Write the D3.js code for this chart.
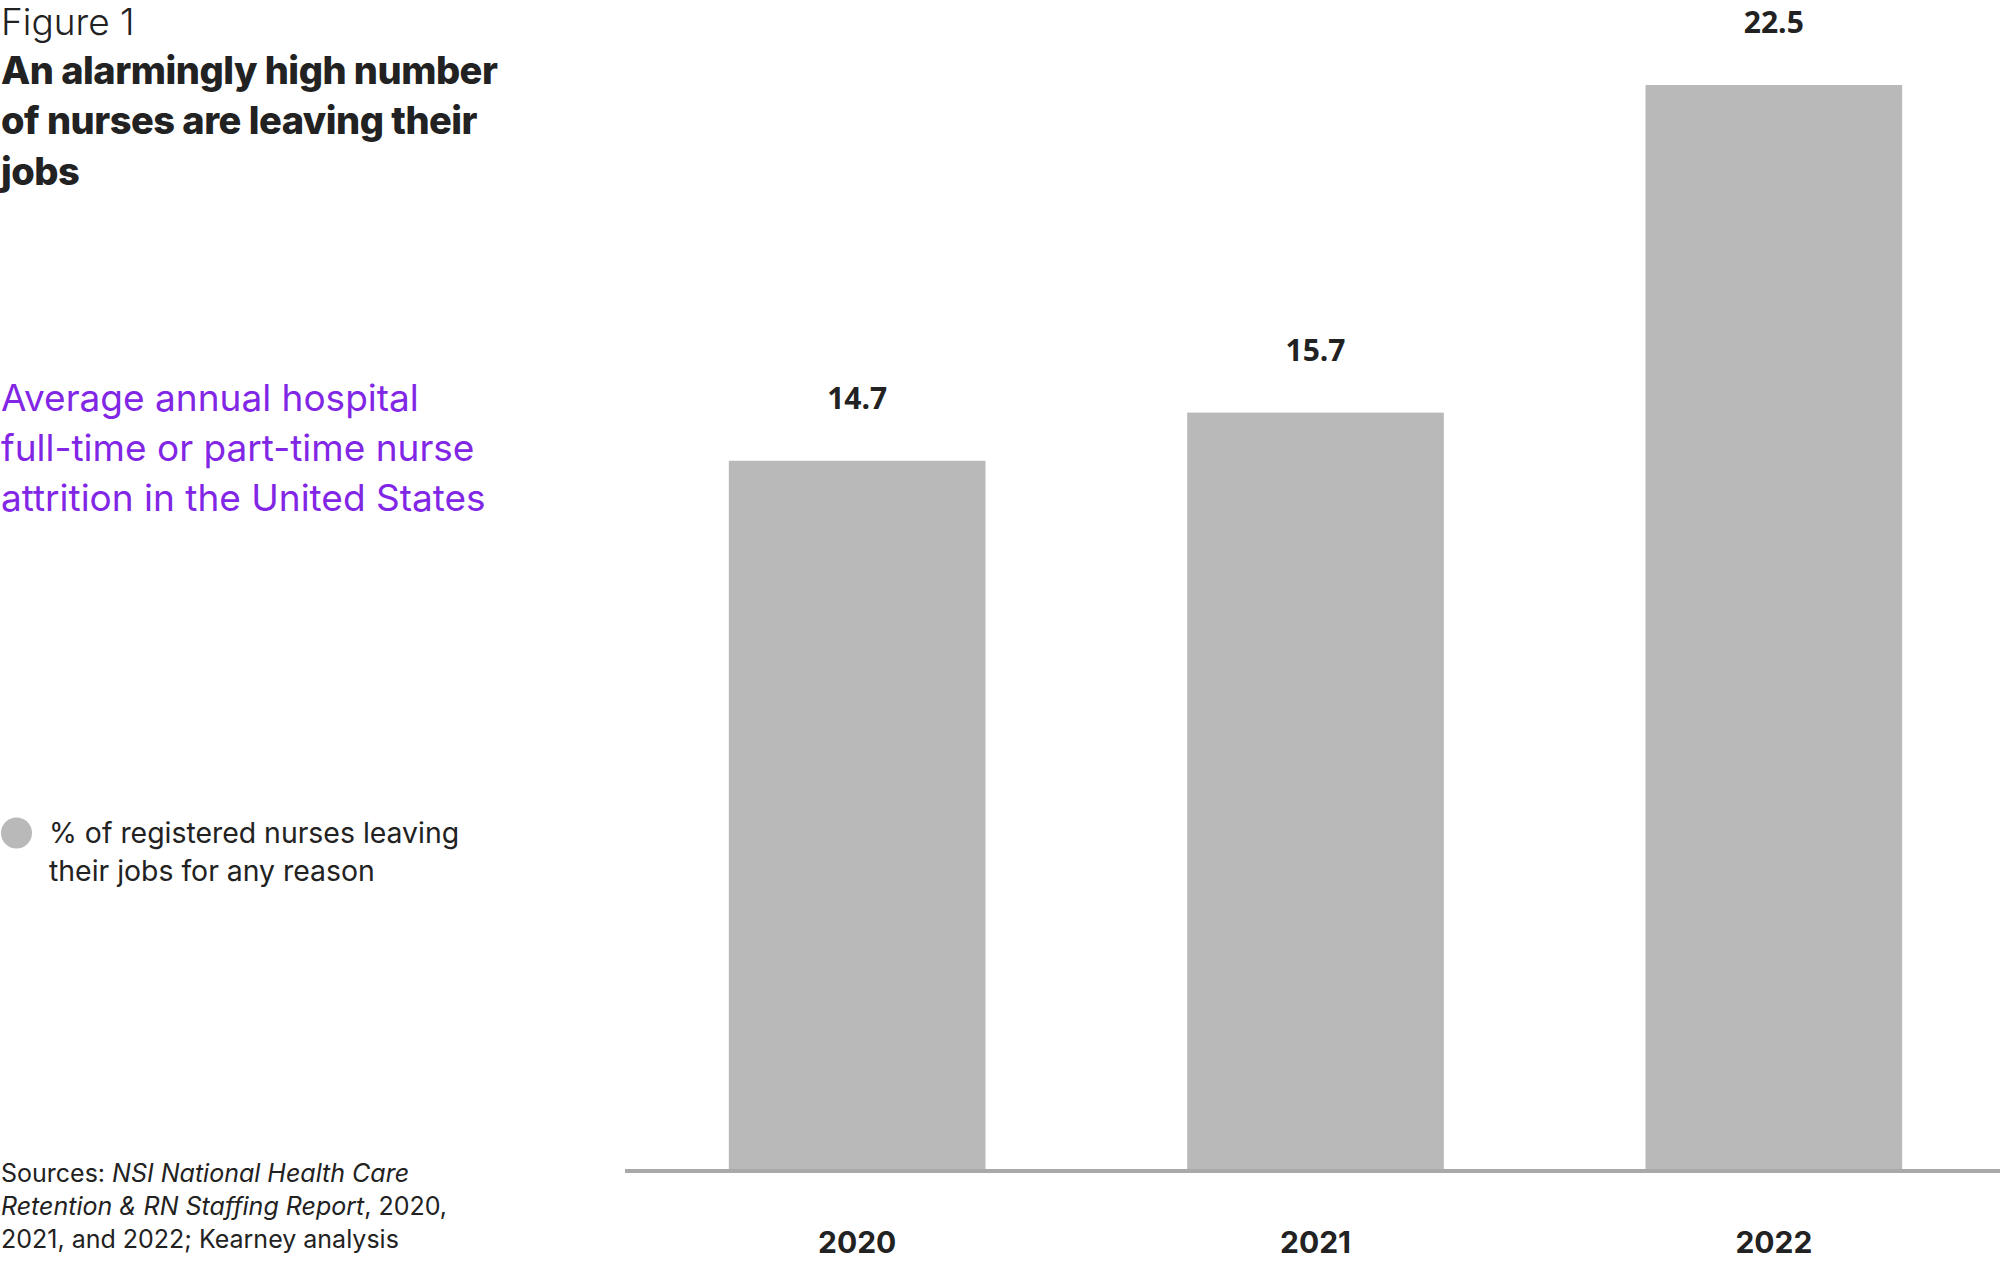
<!DOCTYPE html>
<html>
<head>
<meta charset="utf-8">
<script src="https://cdn.jsdelivr.net/npm/d3@7"></script>
<style>
  body { margin: 0; background: #fff; }
  svg text { font-family: Inter, "Noto Sans", sans-serif; fill: #222; }
</style>
</head>
<body>
<svg id="chart" width="2000" height="1261"></svg>
<script>
// data
var years = ["2020", "2021", "2022"];
var attrition = [14.7, 15.7, 22.5];

var titleLines = ["An alarmingly high number", "of nurses are leaving their", "jobs"];
var subtitleLines = ["Average annual hospital", "full-time or part-time nurse", "attrition in the United States"];
var legendLines = ["% of registered nurses leaving", "their jobs for any reason"];

var svg = d3.select("#chart");

var x = d3.scaleBand()
  .domain(years)
  .range([628, 2003])
  .paddingInner(0.44)
  .paddingOuter(0.22);

var y = d3.scaleLinear()
  .domain([0, 22.5])
  .range([1169, 85]);

// bars
svg.append("g")
  .selectAll("rect")
  .data(attrition)
  .enter()
  .append("rect")
  .attr("x", function(d, i) { return x(years[i]); })
  .attr("y", function(d) { return y(d); })
  .attr("width", x.bandwidth())
  .attr("height", function(d) { return y(0) - y(d); })
  .style("fill", "#b9b9b9");

// baseline
svg.append("line")
  .attr("x1", 625).attr("x2", 2000)
  .attr("y1", y(0) + 2).attr("y2", y(0) + 2)
  .style("stroke", "#a9a9a9")
  .style("stroke-width", 4);

// value labels
svg.append("g")
  .selectAll("text")
  .data(attrition)
  .enter()
  .append("text")
  .attr("x", function(d, i) { return x(years[i]) + x.bandwidth() / 2; })
  .attr("y", function(d) { return y(d) - 52; })
  .attr("text-anchor", "middle")
  .style("font-family", "'Open Sans', sans-serif")
  .style("font-weight", 700)
  .style("font-size", "30px")
  .text(function(d) { return d.toFixed(1); });

// year labels
var xAxis = d3.axisBottom(x).tickSize(0).tickPadding(0);
var ax = svg.append("g")
  .attr("transform", "translate(0," + 1253 + ")")
  .call(xAxis);
ax.select(".domain").remove();
ax.selectAll("text")
  .attr("dy", 0)
  .style("font-family", "Inter, sans-serif")
  .style("font-weight", 700)
  .style("font-size", "30px")
  .style("fill", "#222");

// left panel
svg.append("text")
  .attr("x", 1).attr("y", 35)
  .style("font-weight", 300)
  .style("font-size", "37px")
  .text("Figure 1");

svg.append("g")
  .selectAll("text")
  .data(titleLines)
  .enter()
  .append("text")
  .attr("x", 1)
  .attr("y", function(d, i) { return 84 + i * 50.4; })
  .style("font-weight", 800)
  .style("font-size", "38px")
  .style("letter-spacing", "-0.5px")
  .text(function(d) { return d; });

svg.append("g")
  .selectAll("text")
  .data(subtitleLines)
  .enter()
  .append("text")
  .attr("x", 1)
  .attr("y", function(d, i) { return 411 + i * 49.8; })
  .style("font-weight", 400)
  .style("font-size", "37px")
  .style("fill", "#8226e6")
  .text(function(d) { return d; });

// legend
svg.append("circle")
  .attr("cx", 16.5).attr("cy", 833)
  .attr("r", 15.5)
  .style("fill", "#b9b9b9");

svg.append("g")
  .selectAll("text")
  .data(legendLines)
  .enter()
  .append("text")
  .attr("x", 49)
  .attr("y", function(d, i) { return 843 + i * 38; })
  .style("font-size", "28.4px")
  .text(function(d) { return d; });

// sources
var src = svg.append("g").style("font-size", "25px");
var s1 = src.append("text").attr("x", 1).attr("y", 1182);
s1.append("tspan").text("Sources: ");
s1.append("tspan").style("font-style", "italic").text("NSI National Health Care");
var s2 = src.append("text").attr("x", 1).attr("y", 1215);
s2.append("tspan").style("font-style", "italic").text("Retention & RN Staffing Report");
s2.append("tspan").text(", 2020,");
src.append("text").attr("x", 1).attr("y", 1248).text("2021, and 2022; Kearney analysis");
</script>
</body>
</html>
